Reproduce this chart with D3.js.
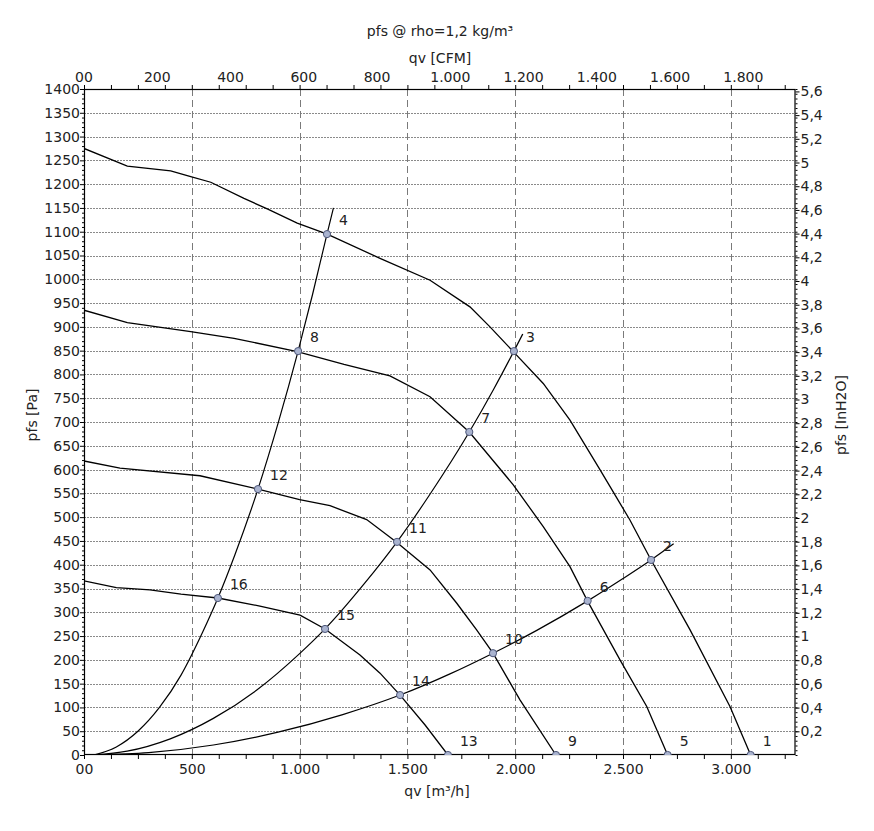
<!DOCTYPE html>
<html>
<head>
<meta charset="utf-8">
<script src="https://cdn.jsdelivr.net/npm/d3@7/dist/d3.min.js"></script>
<style>
  html, body { margin: 0; padding: 0; background: #ffffff; }
  svg { display: block; }
  text { font-family: "DejaVu Sans", Verdana, sans-serif; fill: #222; }
</style>
</head>
<body>
<svg id="chart" width="874" height="831"></svg>
<script>
// ---------------- DATA ----------------
const titleText = "pfs @ rho=1,2 kg/m³";
const topAxisTitle = "qv [CFM]";
const bottomAxisTitle = "qv [m³/h]";
const leftAxisTitle = "pfs [Pa]";
const rightAxisTitle = "pfs [InH2O]";

const bottomTickValues = [0, 500, 1000, 1500, 2000, 2500, 3000];
const bottomTickLabels = ["00", "500", "1.000", "1.500", "2.000", "2.500", "3.000"];
const topTickValuesCFM = [0, 200, 400, 600, 800, 1000, 1200, 1400, 1600, 1800];
const topTickLabels = ["00", "200", "400", "600", "800", "1.000", "1.200", "1.400", "1.600", "1.800"];
const leftTickValues = [0, 50, 100, 150, 200, 250, 300, 350, 400, 450, 500, 550, 600, 650, 700,
  750, 800, 850, 900, 950, 1000, 1050, 1100, 1150, 1200, 1250, 1300, 1350, 1400];
const rightTickValuesIn = [0.2, 0.4, 0.6, 0.8, 1, 1.2, 1.4, 1.6, 1.8, 2, 2.2, 2.4, 2.6, 2.8, 3,
  3.2, 3.4, 3.6, 3.8, 4, 4.2, 4.4, 4.6, 4.8, 5, 5.2, 5.4, 5.6];
const rightTickLabels = ["0,2", "0,4", "0,6", "0,8", "1", "1,2", "1,4", "1,6", "1,8", "2", "2,2", "2,4",
  "2,6", "2,8", "3", "3,2", "3,4", "3,6", "3,8", "4", "4,2", "4,4", "4,6", "4,8", "5", "5,2", "5,4", "5,6"];

// fan curves [qv m³/h, pfs Pa]
const fanCurve1 = [[0,1275],[201,1238],[402,1228],[495,1216],[588,1204],[742,1170],[850,1148],[989,1118],
  [1128,1095],[1373,1044],[1605,998],[1790,942],[1883,900],[1991,848],[2130,781],[2254,704],[2393,600],
  [2440,564],[2532,494],[2630,410],[2811,263],[2996,102],[3092,0]];
const fanCurve2 = [[0,935],[201,909],[495,890],[696,876],[989,848],[1206,821],[1419,797],[1605,753],
  [1787,679],[1991,568],[2130,480],[2254,396],[2335,324],[2486,200],[2610,102],[2707,0]];
const fanCurve3 = [[0,618],[167,603],[538,587],[807,559],[1000,537],[1141,524],[1311,495],[1450,447],
  [1605,389],[1729,319],[1821,263],[1897,214],[2022,116],[2189,0]];
const fanCurve4 = [[0,366],[150,352],[306,347],[450,338],[621,330],[816,313],[1002,294],[1118,265],
  [1280,210],[1373,172],[1466,126],[1582,63],[1688,0]];

// system curves [qv m³/h, pfs Pa]
const systemCurve1 = [[45,0],[150,17],[250,50],[350,100],[450,168],[550,258],[621,330],[700,421],
  [807,559],[900,697],[993,849],[1060,968],[1127,1095],[1157,1150]];
const systemCurve2 = [[45,0],[200,8],[400,34],[600,77],[800,136],[1000,213],[1118,265],[1300,360],
  [1452,448],[1600,545],[1787,679],[1900,769],[1994,849],[2035,885]];
const systemCurve3 = [[45,0],[300,5],[600,21],[900,48],[1200,85],[1466,126],[1700,171],[1897,214],
  [2100,262],[2336,324],[2500,371],[2630,410],[2735,444]];

// operating points
const pointIds = [1, 2, 3, 4, 5, 6, 7, 8, 9, 10, 11, 12, 13, 14, 15, 16];
const pointQv  = [3092, 2630, 1994, 1127, 2707, 2336, 1787, 993, 2189, 1897, 1452, 807, 1688, 1466, 1118, 621];
const pointPfs = [0, 410, 849, 1095, 0, 324, 679, 849, 0, 214, 448, 559, 0, 126, 265, 330];

// ---------------- CHART ----------------
const CFM = 1.699011;     // m³/h per CFM
const INH2O = 249.089;    // Pa per inH2O

const svg = d3.select("#chart");
const L = 84, R = 795.5, T = 89, B = 755;

const x = d3.scaleLinear().domain([0, 3300]).range([L, R]);
const y = d3.scaleLinear().domain([0, 1400]).range([B, T]);

// clip
svg.append("defs").append("clipPath").attr("id", "plotclip")
  .append("rect").attr("x", L).attr("y", T).attr("width", R - L).attr("height", B - T);

// grid
const grid = svg.append("g");
grid.selectAll("line.h").data(leftTickValues.filter(v => v > 0 && v < 1400)).enter()
  .append("line")
  .attr("x1", L).attr("x2", R)
  .attr("y1", d => Math.round(y(d)) + 0.5).attr("y2", d => Math.round(y(d)) + 0.5)
  .attr("stroke", "#8a8a8a").attr("stroke-width", 1).attr("stroke-dasharray", "2,1");
grid.selectAll("line.v").data(bottomTickValues.filter(v => v > 0)).enter()
  .append("line")
  .attr("x1", d => Math.round(x(d)) + 0.5).attr("x2", d => Math.round(x(d)) + 0.5)
  .attr("y1", T).attr("y2", B)
  .attr("stroke", "#7a7a7a").attr("stroke-width", 1).attr("stroke-dasharray", "7,4");

// axes
const fmtBottom = d => bottomTickLabels[bottomTickValues.indexOf(d)];
const bottomAxis = d3.axisBottom(x).tickValues(d3.range(0, 3301, 125)).tickSize(4)
  .tickFormat(d => bottomTickValues.includes(d) ? fmtBottom(d) : "");
const gB = svg.append("g").attr("transform", `translate(0,${B})`).call(bottomAxis);

const topAxis = d3.axisTop(x).tickValues(d3.range(0, 3301, 125)).tickSize(4).tickFormat("");
const gT = svg.append("g").attr("transform", `translate(0,${T})`).call(topAxis);

const leftAxis = d3.axisLeft(y).tickValues(d3.range(0, 1401, 10)).tickSize(2)
  .tickFormat(d => leftTickValues.includes(d) ? String(d) : "");
const gL = svg.append("g").attr("transform", `translate(${L},0)`).call(leftAxis);
gL.selectAll(".tick").filter(d => d % 50 === 0).select("line").attr("x2", -4);

const rightAxis = d3.axisRight(y).tickValues(d3.range(0, 1401, 10)).tickSize(2).tickFormat("");
const gR = svg.append("g").attr("transform", `translate(${R},0)`).call(rightAxis);
const gR2 = svg.append("g").attr("transform", `translate(${R},0)`)
  .call(d3.axisRight(y).tickValues(rightTickValuesIn.map(v => v * INH2O)).tickSize(4)
    .tickFormat((d, i) => rightTickLabels[i]));

[gB, gT, gL, gR, gR2].forEach(g => {
  g.select(".domain").remove();
  g.selectAll(".tick line").attr("stroke", "#000");
  g.selectAll(".tick text").style("font-family", '"DejaVu Sans", Verdana, sans-serif')
    .style("font-size", "14px").attr("fill", "#222");
});
gB.selectAll(".tick text").attr("dy", "0.71em").attr("y", 9);
gL.selectAll(".tick text").attr("x", -4);
gR2.selectAll(".tick text").attr("x", 5);

// top CFM labels
svg.append("g").selectAll("text").data(topTickValuesCFM).enter().append("text")
  .attr("x", d => x(d * CFM)).attr("y", 82)
  .attr("text-anchor", "middle").style("font-size", "14px")
  .text((d, i) => topTickLabels[i]);

// frame
svg.append("rect").attr("x", L + 0.5).attr("y", T + 0.5).attr("width", R - L - 1).attr("height", B - T - 1)
  .attr("fill", "none").attr("stroke", "#000").attr("stroke-width", 1.2);

// curves
const plot = svg.append("g").attr("clip-path", "url(#plotclip)");
const lineFan = d3.line().x(d => x(d[0])).y(d => y(d[1])).curve(d3.curveLinear);
const lineSys = d3.line().x(d => x(d[0])).y(d => y(d[1])).curve(d3.curveMonotoneX);

[fanCurve1, fanCurve2, fanCurve3, fanCurve4].forEach(c => {
  plot.append("path").attr("d", lineFan(c)).attr("fill", "none")
    .attr("stroke", "#000").attr("stroke-width", 1.3);
});
[systemCurve1, systemCurve2, systemCurve3].forEach(c => {
  plot.append("path").attr("d", lineSys(c)).attr("fill", "none")
    .attr("stroke", "#000").attr("stroke-width", 1.2);
});

// points
const pts = pointIds.map((id, i) => ({ id, q: pointQv[i], p: pointPfs[i] }));
plot.selectAll("circle").data(pts).enter().append("circle")
  .attr("cx", d => x(d.q)).attr("cy", d => y(d.p)).attr("r", 3.6)
  .attr("fill", "#a9b3cf").attr("stroke", "#4d5678").attr("stroke-width", 1);
svg.append("g").selectAll("text").data(pts).enter().append("text")
  .attr("x", d => x(d.q) + 12).attr("y", d => y(d.p) - 9)
  .style("font-size", "14px").attr("fill", "#333")
  .text(d => d.id);

// titles
svg.append("text").attr("x", 440).attr("y", 36).attr("text-anchor", "middle")
  .style("font-size", "14px").text(titleText);
svg.append("text").attr("x", 440).attr("y", 63).attr("text-anchor", "middle")
  .style("font-size", "14px").text(topAxisTitle);
svg.append("text").attr("x", 437).attr("y", 796).attr("text-anchor", "middle")
  .style("font-size", "14px").text(bottomAxisTitle);
svg.append("text").attr("transform", "translate(37,415) rotate(-90)").attr("text-anchor", "middle")
  .style("font-size", "14px").text(leftAxisTitle);
svg.append("text").attr("transform", "translate(846,415) rotate(-90)").attr("text-anchor", "middle")
  .style("font-size", "14px").text(rightAxisTitle);
</script>
</body>
</html>
